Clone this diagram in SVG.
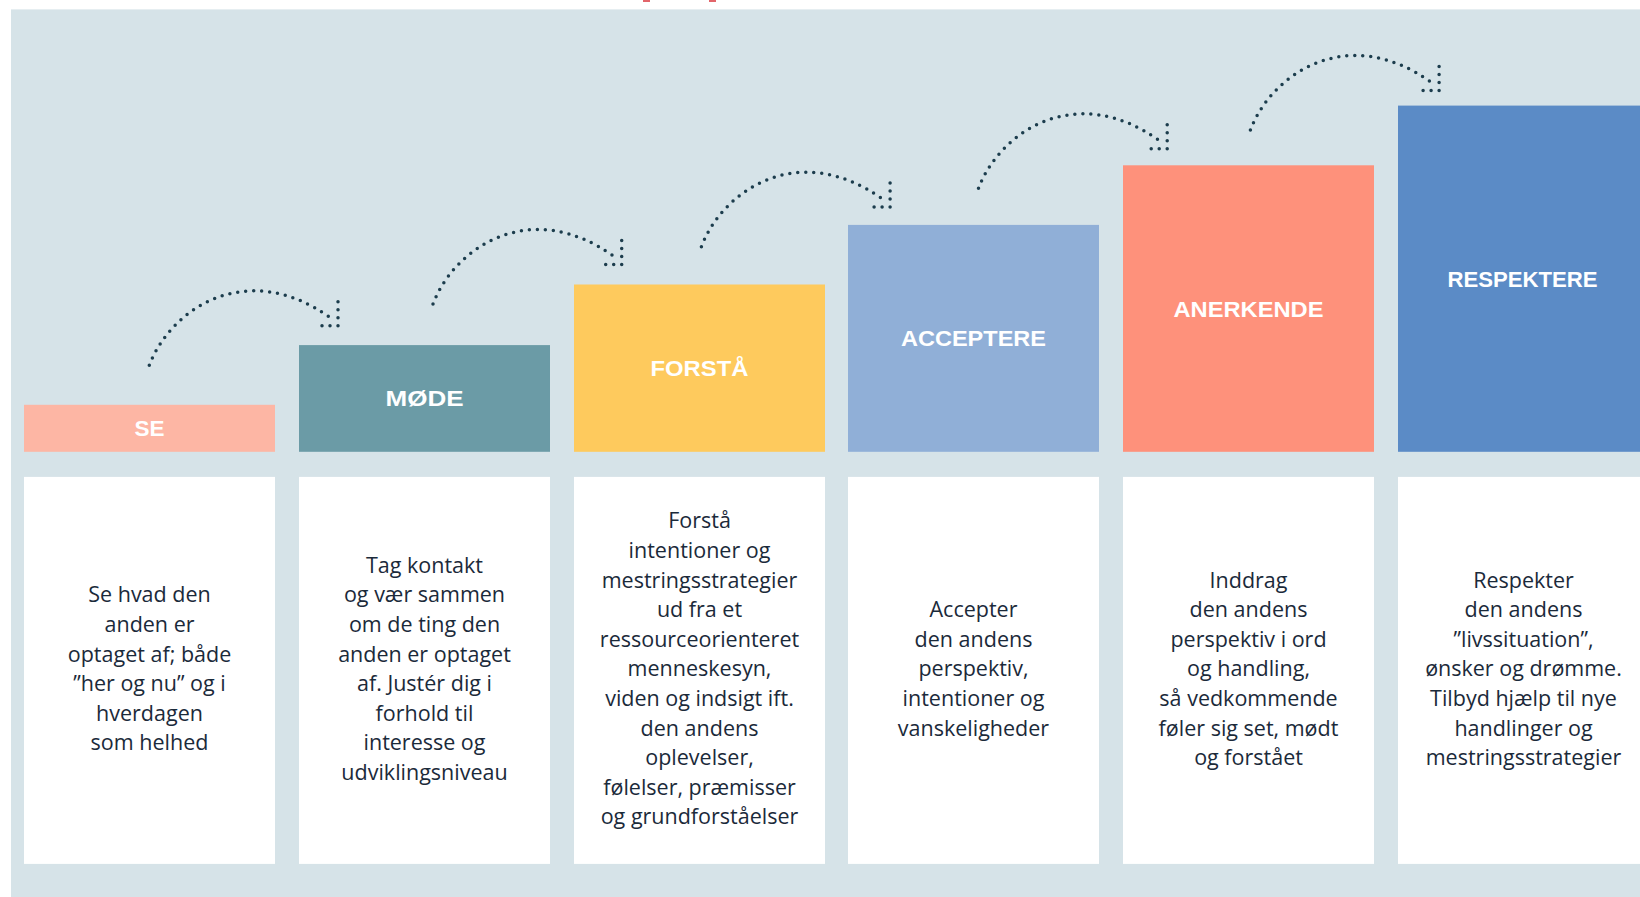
<svg xmlns="http://www.w3.org/2000/svg" xmlns:xlink="http://www.w3.org/1999/xlink" width="1640" height="897" viewBox="0 0 1640 897">
<style>
.label{font-family:"Liberation Sans",Arial,sans-serif;font-weight:bold;font-size:22px;fill:#ffffff;text-anchor:middle}
.body{font-family:"Open Sans","Noto Sans",sans-serif;font-size:21.5px;fill:#1b2a3a;text-anchor:middle}
.card{fill:#ffffff}
.dots{fill:none;stroke:#1c3d4d;stroke-width:3.5;stroke-linecap:round;stroke-dasharray:0 8}
</style>
<defs>
<g id="jump">
<path class="dots" d="M0,0 C20.7,-55.3 95.7,-107.3 179.7,-48.6"/>
<path class="dots" d="M188.7,-63.6 V-39.6 H164.7"/>
</g>
</defs>
<rect x="0" y="0" width="1640" height="897" fill="#ffffff"/>
<rect x="643" y="0" width="7" height="2" fill="#e2656a"/>
<rect x="709" y="0" width="7" height="2" fill="#e2656a"/>
<rect x="11" y="9.4" width="1629" height="887.6" fill="#d6e3e8"/>

<g id="connectors">
<use xlink:href="#jump" href="#jump" x="149.3" y="365.3"/>
<use xlink:href="#jump" href="#jump" x="433" y="304"/>
<use xlink:href="#jump" href="#jump" x="701.4" y="246.7"/>
<use xlink:href="#jump" href="#jump" x="978.5" y="188.3"/>
<use xlink:href="#jump" href="#jump" x="1250.4" y="130"/>
</g>

<g id="se">
<rect x="24" y="404.8" width="251" height="47" fill="#fdb6a4"/>
<text class="label" x="149.5" y="436.2" textLength="30" lengthAdjust="spacingAndGlyphs">SE</text>
<rect class="card" x="24" y="476.9" width="251" height="387"/>
<text class="body" x="149.5" y="602.4"><tspan x="149.5">Se hvad den</tspan><tspan x="149.5" dy="29.6">anden er</tspan><tspan x="149.5" dy="29.6">optaget af; både</tspan><tspan x="149.5" dy="29.6">”her og nu” og i</tspan><tspan x="149.5" dy="29.6">hverdagen</tspan><tspan x="149.5" dy="29.6">som helhed</tspan></text>
</g>

<g id="mode">
<rect x="299" y="345.1" width="251" height="106.7" fill="#6b9ba6"/>
<text class="label" x="424.5" y="406.4" textLength="78" lengthAdjust="spacingAndGlyphs">MØDE</text>
<rect class="card" x="299" y="476.9" width="251" height="387"/>
<text class="body" x="424.5" y="572.8"><tspan x="424.5">Tag kontakt</tspan><tspan x="424.5" dy="29.6">og vær sammen</tspan><tspan x="424.5" dy="29.6">om de ting den</tspan><tspan x="424.5" dy="29.6">anden er optaget</tspan><tspan x="424.5" dy="29.6">af. Justér dig i</tspan><tspan x="424.5" dy="29.6">forhold til</tspan><tspan x="424.5" dy="29.6">interesse og</tspan><tspan x="424.5" dy="29.6">udviklingsniveau</tspan></text>
</g>

<g id="forsta">
<rect x="574" y="284.5" width="251" height="167.3" fill="#feca5d"/>
<text class="label" x="699.5" y="376.1" textLength="98" lengthAdjust="spacingAndGlyphs">FORSTÅ</text>
<rect class="card" x="574" y="476.9" width="251" height="387"/>
<text class="body" x="699.5" y="528.4"><tspan x="699.5">Forstå</tspan><tspan x="699.5" dy="29.6">intentioner og</tspan><tspan x="699.5" dy="29.6">mestringsstrategier</tspan><tspan x="699.5" dy="29.6">ud fra et</tspan><tspan x="699.5" dy="29.6">ressourceorienteret</tspan><tspan x="699.5" dy="29.6">menneskesyn,</tspan><tspan x="699.5" dy="29.6">viden og indsigt ift.</tspan><tspan x="699.5" dy="29.6">den andens</tspan><tspan x="699.5" dy="29.6">oplevelser,</tspan><tspan x="699.5" dy="29.6">følelser, præmisser</tspan><tspan x="699.5" dy="29.6">og grundforståelser</tspan></text>
</g>

<g id="acceptere">
<rect x="848" y="224.9" width="251" height="226.9" fill="#90afd7"/>
<text class="label" x="973.5" y="346.3" textLength="145" lengthAdjust="spacingAndGlyphs">ACCEPTERE</text>
<rect class="card" x="848" y="476.9" width="251" height="387"/>
<text class="body" x="973.5" y="617.2"><tspan x="973.5">Accepter</tspan><tspan x="973.5" dy="29.6">den andens</tspan><tspan x="973.5" dy="29.6">perspektiv,</tspan><tspan x="973.5" dy="29.6">intentioner og</tspan><tspan x="973.5" dy="29.6">vanskeligheder</tspan></text>
</g>

<g id="anerkende">
<rect x="1123" y="165.3" width="251" height="286.5" fill="#fe917b"/>
<text class="label" x="1248.5" y="316.5" textLength="150" lengthAdjust="spacingAndGlyphs">ANERKENDE</text>
<rect class="card" x="1123" y="476.9" width="251" height="387"/>
<text class="body" x="1248.5" y="587.6"><tspan x="1248.5">Inddrag</tspan><tspan x="1248.5" dy="29.6">den andens</tspan><tspan x="1248.5" dy="29.6">perspektiv i ord</tspan><tspan x="1248.5" dy="29.6">og handling,</tspan><tspan x="1248.5" dy="29.6">så vedkommende</tspan><tspan x="1248.5" dy="29.6">føler sig set, mødt</tspan><tspan x="1248.5" dy="29.6">og forstået</tspan></text>
</g>

<g id="respektere">
<rect x="1398" y="105.6" width="251" height="346.2" fill="#5b8bc6"/>
<text class="label" x="1522.5" y="286.6" textLength="150" lengthAdjust="spacingAndGlyphs">RESPEKTERE</text>
<rect class="card" x="1398" y="476.9" width="251" height="387"/>
<text class="body" x="1523.5" y="587.6"><tspan x="1523.5">Respekter</tspan><tspan x="1523.5" dy="29.6">den andens</tspan><tspan x="1523.5" dy="29.6">”livssituation”,</tspan><tspan x="1523.5" dy="29.6">ønsker og drømme.</tspan><tspan x="1523.5" dy="29.6">Tilbyd hjælp til nye</tspan><tspan x="1523.5" dy="29.6">handlinger og</tspan><tspan x="1523.5" dy="29.6">mestringsstrategier</tspan></text>
</g>
</svg>
